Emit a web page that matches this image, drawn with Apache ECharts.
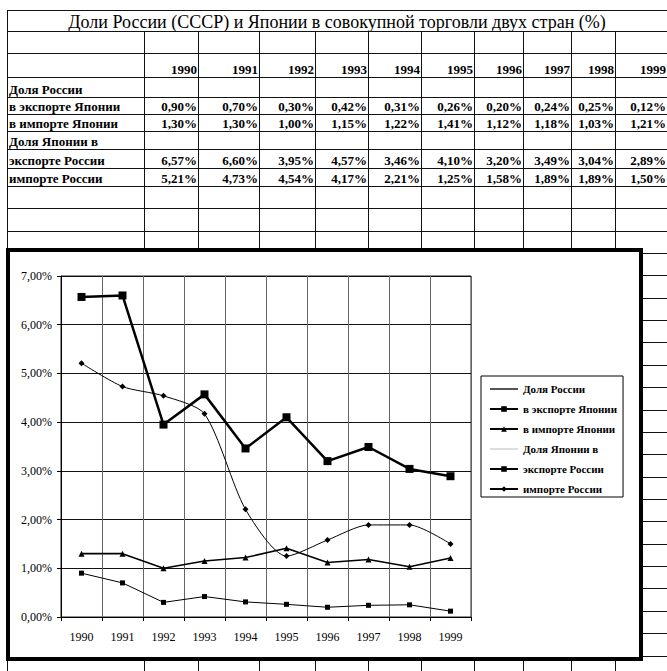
<!DOCTYPE html>
<html>
<head>
<meta charset="utf-8">
<script src="https://cdn.jsdelivr.net/npm/echarts@6/dist/echarts.min.js"></script>
<style>
  body { margin: 0; background: #fff; }
  #page { position: relative; width: 667px; height: 671px; overflow: hidden; font-family: "Liberation Serif", serif; color: #000; }
  .hl { position: absolute; height: 1px; background: #111; }
  .vl { position: absolute; width: 1px; background: #111; }
  .cell { position: absolute; display: flex; align-items: flex-end; box-sizing: border-box; padding: 0 2px 1px 2px; line-height: 1; white-space: nowrap; font-size: 13px; font-weight: bold; }
  .num { justify-content: flex-end; }
  #title { position: absolute; left: 7px; width: 660px; top: 12px; text-align: center; font-size: 18px; line-height: 20px; }
  #box { position: absolute; left: 6px; top: 248px; width: 637px; height: 413px; border: 4px solid #000; box-sizing: border-box; background: #fff; }
  #chart { position: absolute; left: 0; top: 0; width: 667px; height: 671px; }
</style>
</head>
<body>
<div id="page">
  <div id="title">Доли России (СССР) и Японии в совокупной торговли двух стран (%)</div>
  <div id="box"></div>
  <div id="chart"></div>
</div>
<script>
  // данные из таблицы
  var years = ['1990', '1991', '1992', '1993', '1994', '1995', '1996', '1997', '1998', '1999'];
  var ruExpJp = [0.90, 0.70, 0.30, 0.42, 0.31, 0.26, 0.20, 0.24, 0.25, 0.12];   // в экспорте Японии
  var ruImpJp = [1.30, 1.30, 1.00, 1.15, 1.22, 1.41, 1.12, 1.18, 1.03, 1.21];   // в импорте Японии
  var jpExpRu = [6.57, 6.60, 3.95, 4.57, 3.46, 4.10, 3.20, 3.49, 3.04, 2.89];   // экспорте России
  var jpImpRu = [5.21, 4.73, 4.54, 4.17, 2.21, 1.25, 1.58, 1.89, 1.89, 1.50];   // импорте России
  var yMin = 0, yMax = 7, yStep = 1;

  // сетка листа (координаты линий)
  var colX = [7, 144, 198, 259, 315, 368, 421, 474, 523, 571, 615];
  var rowY = [10, 31, 53, 77, 97, 114, 131, 149, 168, 186, 208, 231, 253, 275, 298, 320, 342, 365, 387, 410, 432, 454, 477, 499, 521, 544, 566, 588, 611, 633, 656];

  function pct(v) { return v.toFixed(2).replace('.', ',') + '%'; }

  var page = document.getElementById('page');
  var box = document.getElementById('box');
  function el(cls, css, text) {
    var d = document.createElement('div');
    d.className = cls;
    for (var k in css) d.style[k] = css[k] + 'px';
    if (text) d.textContent = text;
    page.insertBefore(d, box);
    return d;
  }
  rowY.forEach(function (y) { el('hl', { left: 7, top: y, width: 660 }); });
  el('vl', { left: 7, top: 10, height: 661 });
  colX.slice(1).forEach(function (x) { el('vl', { left: x, top: 31, height: 640 }); });

  function cellBox(c, r) {
    var right = c + 1 < colX.length ? colX[c + 1] : 667;
    return { left: colX[c], top: rowY[r], width: right - colX[c] + 1, height: rowY[r + 1] - rowY[r] };
  }
  // строка годов
  years.forEach(function (y, i) { el('cell num', cellBox(i + 1, 2), y); });
  var rows = [
    { r: 3, label: 'Доля России' },
    { r: 4, label: 'в экспорте Японии', vals: ruExpJp },
    { r: 5, label: 'в импорте Японии', vals: ruImpJp },
    { r: 6, label: 'Доля Японии в' },
    { r: 7, label: 'экспорте России', vals: jpExpRu },
    { r: 8, label: 'импорте России', vals: jpImpRu }
  ];
  rows.forEach(function (row) {
    el('cell', cellBox(0, row.r), row.label);
    if (row.vals) row.vals.forEach(function (v, i) { el('cell num', cellBox(i + 1, row.r), pct(v)); });
  });

  var chart = echarts.init(document.getElementById('chart'), null, { renderer: 'svg' });
  var font = 'Liberation Serif';
  chart.setOption({
    animation: false,
    grid: { left: 61, top: 276, right: 196, bottom: 54, show: true, borderColor: '#222', borderWidth: 1 },
    legend: {
      orient: 'vertical', left: 481, top: 376,
      borderColor: '#000', borderWidth: 1, padding: [6, 6, 1, 8],
      itemWidth: 28, itemHeight: 7, itemGap: 6,
      textStyle: { fontFamily: font, fontSize: 11, fontWeight: 'bold', color: '#000', lineHeight: 14 },
      data: [
        { name: 'Доля России', itemStyle: { opacity: 0 } },
        'в экспорте Японии', 'в импорте Японии',
        { name: 'Доля Японии в', itemStyle: { opacity: 0 } },
        'экспорте России', 'импорте России'
      ]
    },
    xAxis: {
      type: 'category', data: years, boundaryGap: true,
      axisLine: { lineStyle: { color: '#000', width: 1 } },
      axisTick: { show: true, length: 4, lineStyle: { color: '#000' } },
      axisLabel: { fontFamily: font, fontSize: 12, color: '#000', margin: 14 },
      splitLine: { show: true, lineStyle: { color: '#666', width: 1 } }
    },
    yAxis: {
      type: 'value', min: yMin, max: yMax, interval: yStep,
      axisLine: { show: true, lineStyle: { color: '#000', width: 1 } },
      axisTick: { show: true, length: 4, lineStyle: { color: '#000' } },
      axisLabel: { fontFamily: font, fontSize: 12, color: '#000', margin: 9, formatter: function (v) { return pct(v); } },
      splitLine: { show: true, lineStyle: { color: '#111', width: 1 } }
    },
    series: [
      { name: 'Доля России', type: 'line', data: [], symbol: 'none', lineStyle: { color: '#555', width: 1 }, itemStyle: { color: '#555' } },
      { name: 'в экспорте Японии', type: 'line', data: ruExpJp, symbol: 'rect', symbolSize: 5,
        lineStyle: { color: '#000', width: 1 }, itemStyle: { color: '#000' } },
      { name: 'в импорте Японии', type: 'line', data: ruImpJp, symbol: 'triangle', symbolSize: 6,
        lineStyle: { color: '#000', width: 1.6 }, itemStyle: { color: '#000' } },
      { name: 'Доля Японии в', type: 'line', data: [], symbol: 'none', lineStyle: { color: '#ddd', width: 1 }, itemStyle: { color: '#ddd' } },
      { name: 'экспорте России', type: 'line', data: jpExpRu, symbol: 'rect', symbolSize: 8,
        lineStyle: { color: '#000', width: 2.5 }, itemStyle: { color: '#000' } },
      { name: 'импорте России', type: 'line', data: jpImpRu, symbol: 'diamond', symbolSize: 6, smooth: 0.25,
        lineStyle: { color: '#000', width: 1 }, itemStyle: { color: '#000' } }
    ]
  });
</script>
</body>
</html>
